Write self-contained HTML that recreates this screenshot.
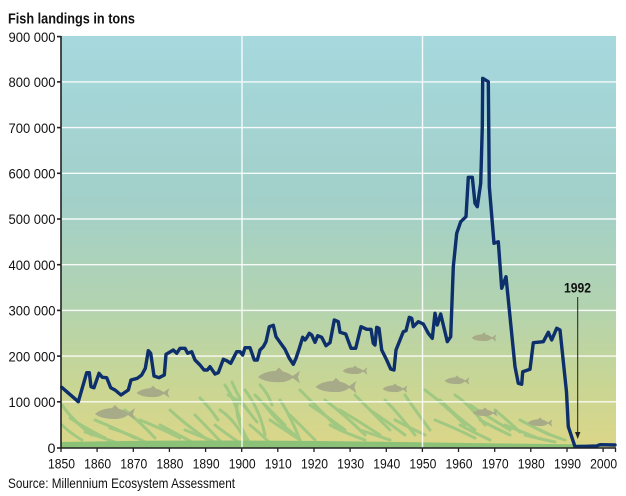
<!DOCTYPE html>
<html><head><meta charset="utf-8"><style>
html,body{margin:0;padding:0;background:#fff;}
svg{display:block;}
text{font-family:"Liberation Sans",Arial,sans-serif;fill:#111;}
</style></head><body>
<svg width="626" height="496" viewBox="0 0 626 496" xmlns="http://www.w3.org/2000/svg">
<defs>
<linearGradient id="bg" x1="0" y1="36" x2="0" y2="448" gradientUnits="userSpaceOnUse">
<stop offset="0" stop-color="#a6d8de"/>
<stop offset="0.4" stop-color="#a2d0c9"/>
<stop offset="0.65" stop-color="#b2d3b0"/>
<stop offset="0.85" stop-color="#c9d693"/>
<stop offset="1" stop-color="#dcd688"/>
</linearGradient>
</defs>
<rect x="61" y="36" width="555" height="412" fill="url(#bg)"/>

<!-- grass -->
<g stroke="#95c57f" stroke-width="3" fill="none" stroke-linecap="round" opacity="0.8">
<path d="M62,405 q10,15 30,30"/><path d="M70,418 q15,10 35,20"/><path d="M95,420 q20,8 40,18"/>
<path d="M85,432 q15,5 30,10"/><path d="M110,428 q20,6 35,14"/><path d="M125,410 q15,12 30,28"/>
<path d="M140,420 q20,8 40,18"/><path d="M160,425 q15,8 30,16"/><path d="M170,410 q15,14 35,28"/>
<path d="M185,430 q15,6 30,12"/><path d="M195,415 q12,12 25,26"/><path d="M200,398 q10,10 18,22"/>
<path d="M62,425 q8,8 20,15"/>
<path d="M225,385 q10,15 15,35"/><path d="M232,382 q8,20 25,40"/><path d="M245,390 q15,20 20,45"/>
<path d="M255,395 q10,10 30,30"/><path d="M238,400 q-5,15 10,40"/><path d="M220,410 q15,10 25,30"/>
<path d="M265,405 q10,15 30,30"/><path d="M280,400 q10,15 20,40"/><path d="M270,420 q15,10 30,20"/>
<path d="M290,415 q10,10 25,25"/><path d="M215,425 q10,8 25,18"/><path d="M250,425 q10,8 20,18"/>
<path d="M228,395 q12,5 22,18"/><path d="M260,385 q8,8 12,20"/>
<path d="M300,390 q15,15 40,40"/><path d="M310,405 q15,10 35,25"/><path d="M325,400 q20,15 40,35"/>
<path d="M340,410 q20,12 40,25"/><path d="M355,395 q15,15 35,35"/><path d="M370,410 q15,10 35,25"/>
<path d="M330,425 q15,8 35,15"/><path d="M385,400 q15,15 30,35"/><path d="M395,420 q15,8 30,15"/>
<path d="M405,395 q10,15 25,35"/><path d="M360,430 q15,5 30,10"/>
<path d="M425,390 q20,15 40,35"/><path d="M440,400 q15,15 35,30"/><path d="M455,395 q15,10 30,30"/>
<path d="M470,405 q15,10 40,25"/><path d="M435,420 q20,8 40,18"/><path d="M480,420 q15,8 30,15"/>
<path d="M495,410 q12,10 25,22"/><path d="M505,425 q15,6 30,12"/><path d="M460,425 q15,8 30,15"/>
<path d="M520,420 q15,8 30,15"/><path d="M540,430 q12,6 25,10"/><path d="M525,435 q15,4 30,7"/>
</g>
<path d="M61,442 Q200,439 400,442 T580,444 L600,448 L61,448 Z" fill="#8cc277"/>

<!-- fish -->
<g fill="#a8ab88">
<g transform="translate(115,414) scale(1)"><path d="M-20,0 Q-14,-6 0,-6 Q8,-5 13,-1 L20,-6 L18,0 L20,6 L13,1 Q8,5 0,5 Q-14,5 -20,0 Z M-4,-5 L0,-9 L4,-5 Z"/></g>
<g transform="translate(153,393) scale(0.82)"><path d="M-20,0 Q-14,-6 0,-6 Q8,-5 13,-1 L20,-6 L18,0 L20,6 L13,1 Q8,5 0,5 Q-14,5 -20,0 Z M-4,-5 L0,-9 L4,-5 Z"/></g>
<g transform="translate(279,377) scale(1.05)"><path d="M-20,0 Q-14,-6 0,-6 Q8,-5 13,-1 L20,-6 L18,0 L20,6 L13,1 Q8,5 0,5 Q-14,5 -20,0 Z M-4,-5 L0,-9 L4,-5 Z"/></g>
<g transform="translate(355,371) scale(0.62)"><path d="M-20,0 Q-14,-6 0,-6 Q8,-5 13,-1 L20,-6 L18,0 L20,6 L13,1 Q8,5 0,5 Q-14,5 -20,0 Z M-4,-5 L0,-9 L4,-5 Z"/></g>
<g transform="translate(336,387) scale(1.02)"><path d="M-20,0 Q-14,-6 0,-6 Q8,-5 13,-1 L20,-6 L18,0 L20,6 L13,1 Q8,5 0,5 Q-14,5 -20,0 Z M-4,-5 L0,-9 L4,-5 Z"/></g>
<g transform="translate(395,389) scale(0.62)"><path d="M-20,0 Q-14,-6 0,-6 Q8,-5 13,-1 L20,-6 L18,0 L20,6 L13,1 Q8,5 0,5 Q-14,5 -20,0 Z M-4,-5 L0,-9 L4,-5 Z"/></g>
<g transform="translate(457,381) scale(0.62)"><path d="M-20,0 Q-14,-6 0,-6 Q8,-5 13,-1 L20,-6 L18,0 L20,6 L13,1 Q8,5 0,5 Q-14,5 -20,0 Z M-4,-5 L0,-9 L4,-5 Z"/></g>
<g transform="translate(485,413) scale(0.62)"><path d="M-20,0 Q-14,-6 0,-6 Q8,-5 13,-1 L20,-6 L18,0 L20,6 L13,1 Q8,5 0,5 Q-14,5 -20,0 Z M-4,-5 L0,-9 L4,-5 Z"/></g>
<g transform="translate(540,423) scale(0.62)"><path d="M-20,0 Q-14,-6 0,-6 Q8,-5 13,-1 L20,-6 L18,0 L20,6 L13,1 Q8,5 0,5 Q-14,5 -20,0 Z M-4,-5 L0,-9 L4,-5 Z"/></g>
<g transform="translate(484,338) scale(0.62)"><path d="M-20,0 Q-14,-6 0,-6 Q8,-5 13,-1 L20,-6 L18,0 L20,6 L13,1 Q8,5 0,5 Q-14,5 -20,0 Z M-4,-5 L0,-9 L4,-5 Z"/></g>
</g>

<!-- gridlines -->
<g stroke="#ffffff" stroke-width="1.4" opacity="0.9">
<line x1="61" x2="616" y1="401.8" y2="401.8"/>
<line x1="61" x2="616" y1="356.1" y2="356.1"/>
<line x1="61" x2="616" y1="310.4" y2="310.4"/>
<line x1="61" x2="616" y1="264.7" y2="264.7"/>
<line x1="61" x2="616" y1="219.0" y2="219.0"/>
<line x1="61" x2="616" y1="173.3" y2="173.3"/>
<line x1="61" x2="616" y1="127.6" y2="127.6"/>
<line x1="61" x2="616" y1="81.9" y2="81.9"/>
<line x1="242" x2="242" y1="36" y2="448"/>
<line x1="422.5" x2="422.5" y1="36" y2="448"/>
</g>

<!-- data line -->
<polyline fill="none" stroke="#0d2f6b" stroke-width="3.4" stroke-linejoin="round" stroke-linecap="round" points="
61.7,387.3 78.3,401.7 86.7,372.7 89.3,372.7 91,386.7 94,387.7 99,373.3 102.3,377.3 106.7,377.7 110.7,387.7 115,390 121,395 128.3,390 131,380 137.3,378.3 141.7,375 145.3,368.3 148.3,350.7 150.7,353.3 154,376 159,377.7 164.3,375 166,354.3 173.3,350 176.7,353.3 180,348.3 185,348.3 187.7,353.3 191.7,351.7 195,360 200,365 204,370 207.3,370 210,366.7 215,374 218.3,372.7 223.3,359.3 226.7,360.7 230.7,363.3 236.7,351.7 240,351.7 242.7,355 245,347.7 250,347.7 254.3,360 257.3,360 260,350 263.3,346.7 266,341.7 269.3,326.7 273.3,325.3 276,336.7 280.7,343.3 285,349.3 289.3,358.3 293.3,364.3 296,358.3 299.3,348.3 302.7,337.3 305,340 306.7,337.7 309.3,333.3 311.7,335 315,342.3 317.7,335.7 321.7,337.3 326,345.7 330,342.7 334.3,320 338.3,321.7 340,332.3 345.7,334 351,348.3 355.7,348.3 361,326.7 366.7,329.3 371,329.3 373.3,343.3 375,345 376.7,327.3 379,328.3 381.7,350 386.7,360 390.7,369 394,370 396,350 403.3,331.7 406,330.7 409.3,317.3 411.7,318.3 413.3,326.7 418.3,321.7 423.3,324 428.3,333.3 432.3,338.3 435,313.3 437.3,325 440.7,314 443.3,325 447.3,341.7 450.7,336.7 453.3,266.7 456.7,233.3 460.7,221.7 466,216.7 468.3,177.3 472.3,177.3 475,203.3 477.3,206.7 480.7,183.3 482.3,126.7 482.7,78.3 488.3,81.7 489.3,186.7 494,243.3 498.3,241.7 501.7,288.3 506,276.7 515,366.7 518.3,383.3 521.7,384.3 522.7,371.7 530,369.3 533.3,342.7 543.3,341.7 548.3,332.3 551.7,340 556.7,328.3 560,330 566.5,392 568.3,426.7 575,446.7 596.7,446 600,444.7 615,445"/>

<!-- axes -->
<g stroke="#222" stroke-width="1.6">
<line x1="61" y1="36" x2="61" y2="448.5"/>
<line x1="60.2" y1="448" x2="616" y2="448"/>
<line x1="57" x2="61" y1="448" y2="448"/>
<line x1="57" x2="61" y1="401.8" y2="401.8"/>
<line x1="57" x2="61" y1="356.1" y2="356.1"/>
<line x1="57" x2="61" y1="310.4" y2="310.4"/>
<line x1="57" x2="61" y1="264.7" y2="264.7"/>
<line x1="57" x2="61" y1="219.0" y2="219.0"/>
<line x1="57" x2="61" y1="173.3" y2="173.3"/>
<line x1="57" x2="61" y1="127.6" y2="127.6"/>
<line x1="57" x2="61" y1="81.9" y2="81.9"/>
<line x1="57" x2="61" y1="36.6" y2="36.6"/>
</g>
<g stroke="#222" stroke-width="1.3">
<line x1="61" x2="61" y1="448" y2="452"/>
<line x1="97.1" x2="97.1" y1="448" y2="452"/>
<line x1="133.3" x2="133.3" y1="448" y2="452"/>
<line x1="169.4" x2="169.4" y1="448" y2="452"/>
<line x1="205.6" x2="205.6" y1="448" y2="452"/>
<line x1="241.7" x2="241.7" y1="448" y2="452"/>
<line x1="277.8" x2="277.8" y1="448" y2="452"/>
<line x1="314" x2="314" y1="448" y2="452"/>
<line x1="350.1" x2="350.1" y1="448" y2="452"/>
<line x1="386.3" x2="386.3" y1="448" y2="452"/>
<line x1="422.4" x2="422.4" y1="448" y2="452"/>
<line x1="458.5" x2="458.5" y1="448" y2="452"/>
<line x1="494.7" x2="494.7" y1="448" y2="452"/>
<line x1="530.8" x2="530.8" y1="448" y2="452"/>
<line x1="567" x2="567" y1="448" y2="452"/>
<line x1="603.1" x2="603.1" y1="448" y2="452"/>
<line x1="615.5" x2="615.5" y1="448" y2="452"/>
</g>

<!-- 1992 annotation -->
<line x1="577.7" y1="297" x2="577.7" y2="434" stroke="#222" stroke-width="1"/>
<path d="M575,432 L580.4,432 L577.7,439 Z" fill="#222"/>
<text x="577.5" y="292.7" font-size="14" font-weight="bold" text-anchor="middle" textLength="27" lengthAdjust="spacingAndGlyphs">1992</text>

<!-- y labels -->
<g font-size="14" text-anchor="end">
<text x="55.5" y="453" textLength="8" lengthAdjust="spacingAndGlyphs">0</text>
<text x="55.5" y="407" textLength="47" lengthAdjust="spacingAndGlyphs">100 000</text>
<text x="55.5" y="361.3" textLength="47" lengthAdjust="spacingAndGlyphs">200 000</text>
<text x="55.5" y="315.6" textLength="47" lengthAdjust="spacingAndGlyphs">300 000</text>
<text x="55.5" y="269.9" textLength="47" lengthAdjust="spacingAndGlyphs">400 000</text>
<text x="55.5" y="224.2" textLength="47" lengthAdjust="spacingAndGlyphs">500 000</text>
<text x="55.5" y="178.5" textLength="47" lengthAdjust="spacingAndGlyphs">600 000</text>
<text x="55.5" y="132.8" textLength="47" lengthAdjust="spacingAndGlyphs">700 000</text>
<text x="55.5" y="87.1" textLength="47" lengthAdjust="spacingAndGlyphs">800 000</text>
<text x="55.5" y="42" textLength="47" lengthAdjust="spacingAndGlyphs">900 000</text>
</g>

<!-- x labels -->
<g font-size="14" text-anchor="middle">
<text x="61.5" y="468.5" textLength="27" lengthAdjust="spacingAndGlyphs">1850</text>
<text x="97.6" y="468.5" textLength="27" lengthAdjust="spacingAndGlyphs">1860</text>
<text x="133.8" y="468.5" textLength="27" lengthAdjust="spacingAndGlyphs">1870</text>
<text x="169.9" y="468.5" textLength="27" lengthAdjust="spacingAndGlyphs">1880</text>
<text x="206.1" y="468.5" textLength="27" lengthAdjust="spacingAndGlyphs">1890</text>
<text x="242.2" y="468.5" textLength="27" lengthAdjust="spacingAndGlyphs">1900</text>
<text x="278.3" y="468.5" textLength="27" lengthAdjust="spacingAndGlyphs">1910</text>
<text x="314.5" y="468.5" textLength="27" lengthAdjust="spacingAndGlyphs">1920</text>
<text x="350.6" y="468.5" textLength="27" lengthAdjust="spacingAndGlyphs">1930</text>
<text x="386.8" y="468.5" textLength="27" lengthAdjust="spacingAndGlyphs">1940</text>
<text x="422.9" y="468.5" textLength="27" lengthAdjust="spacingAndGlyphs">1950</text>
<text x="459" y="468.5" textLength="27" lengthAdjust="spacingAndGlyphs">1960</text>
<text x="495.2" y="468.5" textLength="27" lengthAdjust="spacingAndGlyphs">1970</text>
<text x="531.3" y="468.5" textLength="27" lengthAdjust="spacingAndGlyphs">1980</text>
<text x="567.5" y="468.5" textLength="27" lengthAdjust="spacingAndGlyphs">1990</text>
<text x="603.6" y="468.5" textLength="27" lengthAdjust="spacingAndGlyphs">2000</text>
</g>

<text x="8" y="23.5" font-size="15" font-weight="bold" textLength="127" lengthAdjust="spacingAndGlyphs">Fish landings in tons</text>
<text x="8" y="488" font-size="14" textLength="227" lengthAdjust="spacingAndGlyphs">Source: Millennium Ecosystem Assessment</text>
</svg>
</body></html>
